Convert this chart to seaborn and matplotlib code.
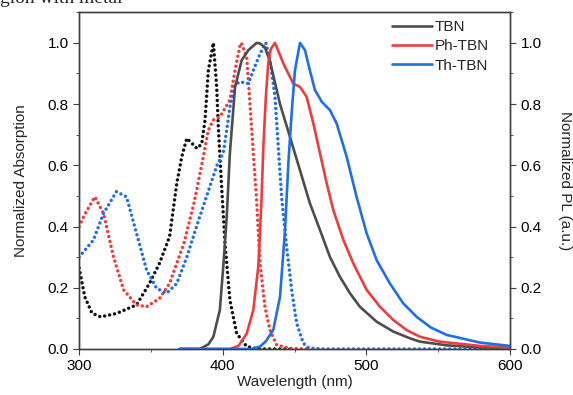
import matplotlib
matplotlib.use("Agg")
import matplotlib.pyplot as plt
import seaborn as sns
from matplotlib.ticker import MultipleLocator

# absorption spectra (dotted)
tbn_abs_x = [300, 304, 309, 315, 326, 340, 349, 356, 363, 368, 371.5, 375, 379, 382, 385.4, 387.7,
             390, 393.5, 395.8, 397, 399, 401.6, 405, 409.7, 416.7, 425, 450]
tbn_abs_y = [0.265, 0.17, 0.117, 0.105, 0.116, 0.144, 0.214, 0.28, 0.367, 0.54, 0.628, 0.688, 0.67, 0.655,
             0.67, 0.748, 0.91, 1.0, 0.856, 0.72, 0.55, 0.345, 0.16, 0.051, 0.008, 0.0, 0.0]

ph_abs_x = [300, 304, 311, 317, 324, 331, 340, 347, 356, 363, 373, 380, 386.5, 390, 393.5, 398, 405,
            408.6, 412, 413, 416.7, 419, 421.3, 423.6, 426, 429.4, 432.9, 437.6, 447, 460]
ph_abs_y = [0.40, 0.44, 0.497, 0.443, 0.30, 0.193, 0.144, 0.138, 0.165, 0.214, 0.345, 0.476, 0.628, 0.715,
            0.748, 0.758, 0.813, 0.91, 0.99, 1.0, 0.954, 0.80, 0.64, 0.486, 0.28, 0.138, 0.062, 0.013,
            0.002, 0.0]

th_abs_x = [300, 310, 317, 326, 333, 340, 347, 354, 361, 368, 375, 384, 396, 400.4, 402.8, 405, 408.6,
            412, 417.8, 421.3, 426, 430, 432.9, 436.4, 438.7, 441, 444.5, 448, 451.5, 456.1, 460, 470, 600]
th_abs_y = [0.30, 0.356, 0.443, 0.514, 0.497, 0.378, 0.258, 0.198, 0.182, 0.214, 0.30, 0.432, 0.60, 0.64,
            0.715, 0.79, 0.862, 0.873, 0.867, 0.91, 0.965, 1.0, 0.945, 0.824, 0.66, 0.497, 0.334, 0.193,
            0.084, 0.019, 0.003, 0.0, 0.0]

# PL spectra (solid)
tbn_pl_x = [370, 384, 390, 393.5, 398, 400.4, 402.8, 405, 408.6, 413.2, 417.8, 423.6, 426, 429.4, 432.9,
            439.9, 446.8, 453.8, 460.7, 467.7, 474.7, 481.6, 488.6, 495.5, 507.2, 518.7, 530.3, 537.3,
            555.9, 579, 600]
tbn_pl_y = [0.0, 0.0, 0.015, 0.04, 0.127, 0.27, 0.432, 0.64, 0.856, 0.943, 0.976, 1.0, 0.998, 0.985, 0.94,
            0.80, 0.693, 0.584, 0.476, 0.389, 0.30, 0.236, 0.182, 0.138, 0.089, 0.057, 0.035, 0.024,
            0.012, 0.005, 0.003]

ph_pl_x = [370, 405, 411, 416.7, 421.3, 424.8, 427, 428.3, 430, 431.7, 433.5, 436.4, 442.2, 449.1, 453.8,
           458.4, 463.1, 467.7, 472.4, 477, 484, 490.9, 500.2, 509.5, 518.7, 528, 537.3, 551, 579, 600]
ph_pl_y = [0.0, 0.0, 0.01, 0.05, 0.127, 0.27, 0.486, 0.66, 0.82, 0.933, 0.98, 1.0, 0.933, 0.867, 0.856,
           0.824, 0.737, 0.64, 0.541, 0.454, 0.356, 0.28, 0.193, 0.138, 0.095, 0.062, 0.04, 0.024,
           0.01, 0.005]

th_pl_x = [370, 420, 426, 430, 435.2, 439.9, 443.4, 445.7, 448, 450.3, 453.8, 457.3, 460.7, 464.2, 468.9,
           474.7, 479.3, 486.3, 493.2, 500.2, 507.2, 516.4, 525.7, 535, 545, 555.9, 579, 600]
th_pl_y = [0.0, 0.0, 0.008, 0.025, 0.062, 0.171, 0.389, 0.606, 0.77, 0.91, 1.0, 0.976, 0.91, 0.846, 0.808,
           0.78, 0.737, 0.628, 0.497, 0.378, 0.29, 0.214, 0.149, 0.105, 0.07, 0.046, 0.021, 0.01]

names = ["TBN", "Ph-TBN", "Th-TBN"]
colors = ["#4d4d4d", "#ef3d3d", "#1f6fe6"]
abs_colors = ["#111111", "#ef3d3d", "#1f6fe6"]

sns.set_style("ticks")
plt.rcParams["font.family"] = ["Liberation Sans", "DejaVu Sans"]
plt.rcParams["font.size"] = 11

fig = plt.figure(figsize=(5.73, 3.95), dpi=100)
ax = fig.add_axes([0.138, 0.1165, 0.752, 0.8525])
ax2 = ax.twinx()

abs_data = [(tbn_abs_x, tbn_abs_y), (ph_abs_x, ph_abs_y), (th_abs_x, th_abs_y)]
pl_data = [(tbn_pl_x, tbn_pl_y), (ph_pl_x, ph_pl_y), (th_pl_x, th_pl_y)]

for (x, y), c in zip(abs_data, abs_colors):
    sns.lineplot(x=x, y=y, ax=ax, color=c, lw=2.5, linestyle=(0, (0.01, 1.45)),
                 dash_capstyle="round", estimator=None, sort=False)

for (x, y), c, n in zip(pl_data, colors, names):
    sns.lineplot(x=x, y=y, ax=ax2, color=c, lw=1.9, label=n, estimator=None, sort=False)

spine_col = "#404040"
for a in (ax, ax2):
    a.set_xlim(300, 600)
    a.set_ylim(0, 1.1)
    a.yaxis.set_major_locator(MultipleLocator(0.2))
    a.yaxis.set_minor_locator(MultipleLocator(0.1))
    for s in a.spines.values():
        s.set_visible(True)
        s.set_color(spine_col)
        s.set_linewidth(1.0)
    a.tick_params(which="both", direction="out", colors=spine_col, labelcolor="black", labelsize=11)
    a.tick_params(which="major", length=4)
    a.tick_params(which="minor", length=2.5)

ax.xaxis.set_major_locator(MultipleLocator(100))
ax.xaxis.set_minor_locator(MultipleLocator(50))
ax.set_yticks([0, 0.2, 0.4, 0.6, 0.8, 1.0])
ax2.set_yticks([0, 0.2, 0.4, 0.6, 0.8, 1.0])
ax.set_yticklabels(["0.0", "0.2", "0.4", "0.6", "0.8", "1.0"])
ax2.set_yticklabels(["0.0", "0.2", "0.4", "0.6", "0.8", "1.0"])

ax.set_xlabel("Wavelength (nm)", fontsize=11, labelpad=1)
ax.set_ylabel("Normalized Absorption", fontsize=11, labelpad=14)
ax2.set_ylabel("Normalized PL (a.u.)", fontsize=11, rotation=270, labelpad=22)

ax2.legend(loc="upper left", bbox_to_anchor=(0.712, 0.995), frameon=False, fontsize=11,
           handlelength=2.6, handletextpad=0.2, labelspacing=0.35, borderaxespad=0)

fig.text(0.0, 1.005, "gion with metal", fontsize=14, family="Liberation Serif", va="center", ha="left")

fig.savefig("out.png", dpi=100)
